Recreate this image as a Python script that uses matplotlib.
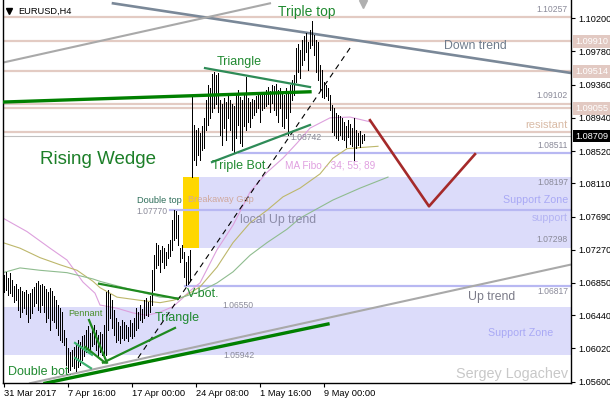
import matplotlib
matplotlib.use('Agg')
import matplotlib.pyplot as plt
from matplotlib.patches import Rectangle

plt.rcParams['font.family'] = ['Liberation Sans', 'DejaVu Sans']

W, H = 610, 400

# H4 bars, EURUSD (high / low only, bar index 0 = leftmost bar)
highs = [
    1.0695, 1.0699, 1.0691, 1.0698, 1.0689, 1.0681, 1.0684, 1.0677, 1.0680, 1.0675,
    1.0674, 1.0676, 1.0671, 1.0672, 1.0677, 1.0680, 1.0685, 1.0687, 1.0682, 1.0684,
    1.0681, 1.0677, 1.0674, 1.0679, 1.0675, 1.0668, 1.0663, 1.0657, 1.0653, 1.0648,
    1.0625, 1.0615, 1.0603, 1.0598, 1.0600, 1.0604, 1.0606, 1.0613, 1.0610, 1.0618,
    1.0619, 1.0625, 1.0630, 1.0622, 1.0628, 1.0632, 1.0625, 1.0619, 1.0623, 1.0620,
    1.0632, 1.0674, 1.0676, 1.0671, 1.0663, 1.0651, 1.0641, 1.0636, 1.0630, 1.0638,
    1.0636, 1.0632, 1.0629, 1.0638, 1.0634, 1.0641, 1.0653, 1.0648, 1.0657, 1.0652,
    1.0663, 1.0666, 1.0661, 1.0668, 1.0701, 1.0720, 1.0736, 1.0733, 1.0727, 1.0732,
    1.0729, 1.0724, 1.0734, 1.0739, 1.0765, 1.0777, 1.0776, 1.0771, 1.0729, 1.0733,
    1.0724, 1.0712, 1.0719, 1.0727, 1.0920, 1.0885, 1.0879, 1.0881, 1.0875, 1.0884,
    1.0894, 1.0917, 1.0936, 1.0932, 1.0950, 1.0952, 1.0948, 1.0951, 1.0917, 1.0912,
    1.0919, 1.0914, 1.0922, 1.0917, 1.0912, 1.0909, 1.0923, 1.0929, 1.0920, 1.0917,
    1.0923, 1.0946, 1.0919, 1.0914, 1.0918, 1.0917, 1.0922, 1.0925, 1.0923, 1.0927,
    1.0924, 1.0929, 1.0933, 1.0928, 1.0936, 1.0934, 1.0937, 1.0929, 1.0932, 1.0927,
    1.0923, 1.0932, 1.0928, 1.0936, 1.0942, 1.0948, 1.0982, 1.0988, 1.0980, 1.0993,
    1.0998, 1.1001, 1.0990, 1.1005, 1.1017, 1.0999, 1.0993, 1.0990, 1.0961, 1.0955,
    1.0939, 1.0936, 1.0932, 1.0923, 1.0910, 1.0907, 1.0900, 1.0898, 1.0896, 1.0894,
    1.0889, 1.0884, 1.0891, 1.0886, 1.0881, 1.0894, 1.0879, 1.0875, 1.0877, 1.0872,
    1.0874,
]
lows = [
    1.0674, 1.0676, 1.0670, 1.0672, 1.0668, 1.0661, 1.0663, 1.0651, 1.0642, 1.0648,
    1.0653, 1.0646, 1.0636, 1.0641, 1.0647, 1.0656, 1.0660, 1.0651, 1.0648, 1.0657,
    1.0648, 1.0636, 1.0641, 1.0625, 1.0638, 1.0636, 1.0628, 1.0619, 1.0613, 1.0610,
    1.0606, 1.0581, 1.0572, 1.0575, 1.0580, 1.0577, 1.0573, 1.0579, 1.0581, 1.0587,
    1.0592, 1.0598, 1.0603, 1.0598, 1.0605, 1.0608, 1.0600, 1.0592, 1.0598, 1.0594,
    1.0590, 1.0594, 1.0625, 1.0641, 1.0628, 1.0619, 1.0610, 1.0613, 1.0609, 1.0615,
    1.0613, 1.0615, 1.0611, 1.0618, 1.0615, 1.0618, 1.0625, 1.0628, 1.0638, 1.0636,
    1.0641, 1.0644, 1.0643, 1.0648, 1.0657, 1.0676, 1.0704, 1.0708, 1.0699, 1.0712,
    1.0704, 1.0708, 1.0717, 1.0719, 1.0727, 1.0739, 1.0742, 1.0733, 1.0712, 1.0717,
    1.0693, 1.0682, 1.0684, 1.0689, 1.0819, 1.0841, 1.0834, 1.0847, 1.0841, 1.0853,
    1.0856, 1.0879, 1.0885, 1.0894, 1.0901, 1.0907, 1.0912, 1.0901, 1.0872, 1.0860,
    1.0881, 1.0866, 1.0894, 1.0879, 1.0853, 1.0851, 1.0869, 1.0885, 1.0862, 1.0858,
    1.0884, 1.0879, 1.0889, 1.0882, 1.0894, 1.0898, 1.0901, 1.0907, 1.0889, 1.0904,
    1.0907, 1.0909, 1.0912, 1.0901, 1.0913, 1.0904, 1.0898, 1.0889, 1.0907, 1.0884,
    1.0881, 1.0894, 1.0872, 1.0901, 1.0917, 1.0923, 1.0939, 1.0952, 1.0944, 1.0961,
    1.0967, 1.0977, 1.0955, 1.0982, 1.0986, 1.0974, 1.0952, 1.0942, 1.0929, 1.0920,
    1.0919, 1.0922, 1.0917, 1.0904, 1.0876, 1.0872, 1.0869, 1.0866, 1.0872, 1.0867,
    1.0866, 1.0857, 1.0870, 1.0861, 1.0858, 1.0841, 1.0856, 1.0860, 1.0857, 1.0862,
    1.0866,
]

date_ticks = [0, 32, 64, 96, 128, 160]
date_labels = ['31 Mar 2017', '7 Apr 16:00', '17 Apr 00:00', '24 Apr 08:00',
               '1 May 16:00', '9 May 00:00']
price_ticks = [1.10200, 1.09780, 1.09360, 1.08940, 1.08520, 1.08110,
               1.07690, 1.07270, 1.06850, 1.06440, 1.06020, 1.05600]

# moving averages (Fibo 34 / 55 / 89)
ma34_x = [-0.5, 11.5, 23, 31.5, 39.5, 45.5, 48, 56.5, 64.5, 71.5, 78, 84.5, 89, 93,
          98, 106.5, 114.5, 123, 131.5, 139.5, 146.5, 153, 163, 173, 183]
ma34_y = [1.0767, 1.0750, 1.0729, 1.0714, 1.0686, 1.0672, 1.0657, 1.0653, 1.0647,
          1.0644, 1.0648, 1.0655, 1.0665, 1.0675, 1.0685, 1.0727, 1.0758, 1.0800,
          1.0825, 1.0843, 1.0862, 1.0881, 1.0894, 1.0895, 1.0889]
ma55_x = [-0.5, 8, 18, 28, 36.5, 44.5, 48, 56.5, 68, 78, 84.5, 89.5, 98, 106.5,
          114.5, 123, 131.5, 139.5, 148, 153, 158, 164.5, 171.5, 181.5, 187]
ma55_y = [1.0736, 1.0729, 1.0717, 1.0708, 1.0701, 1.0687, 1.0679, 1.0667, 1.0663,
          1.0660, 1.0663, 1.0667, 1.0680, 1.0705, 1.0736, 1.0761, 1.0777, 1.0794,
          1.0805, 1.0814, 1.0823, 1.0843, 1.0855, 1.0857, 1.0858]
ma89_x = [-0.5, 8, 18, 31.5, 44.5, 48, 64.5, 78, 88, 98, 106.5, 114.5, 123, 131.5,
          141.5, 148, 164.5, 178, 192]
ma89_y = [1.0698, 1.0704, 1.0701, 1.0698, 1.0690, 1.0687, 1.0676, 1.0667, 1.0666,
          1.0674, 1.0685, 1.0699, 1.0720, 1.0736, 1.0753, 1.0767, 1.0790, 1.0805, 1.0819]

# horizontal levels
resist_levels = [1.1022, 1.0991, 1.0953, 1.0912, 1.0906, 1.0876]
box_levels = [1.0991, 1.0953, 1.0906]
box_labels = ['1.09910', '1.09514', '1.09055']
bid = 1.08709
blue_levels = [1.0850, 1.0777, 1.0681]
blue_start = [117.5, 83, 90.5]

upper_zone = [1.07298, 1.08197]
upper_zone_start = 97
lower_zone = [1.05942, 1.06550]
gap_x = [89.5, 97.5]

# trend lines as (bar, price) anchors
down_trend_x, down_trend_y = [54.5, 283], [1.1039, 1.0951]
grey_line_x, grey_line_y = [-0.5, 133], [1.0964, 1.1039]
up_trend_x, up_trend_y = [13, 283], [1.0558, 1.0708]
wedge_low_x, wedge_low_y = [20.5, 162], [1.0558, 1.0633]
wedge_up_x, wedge_up_y = [-0.5, 153], [1.0914, 1.0927]
tri_top_x, tri_top_y = [100.5, 153], [1.0957, 1.0933]
tri_bot_x, tri_bot_y = [104, 153], [1.0838, 1.0885]
tri2_top_x, tri2_top_y = [47.5, 87], [1.0684, 1.0665]
tri2_bot_x, tri2_bot_y = [49.5, 85.5], [1.0584, 1.0628]
pen_a_x, pen_a_y = [42.5, 51.5], [1.0638, 1.0584]
pen_b_x, pen_b_y = [40.5, 50.5], [1.0604, 1.0584]
pen_c_x, pen_c_y = [35.5, 44], [1.0609, 1.0594]
pen_d_x, pen_d_y = [35.5, 43.5], [1.0590, 1.0577]
dash_x, dash_y = [67, 174], [1.0590, 1.0986]
fore_x, fore_y = [183, 212.5, 235.5], [1.0891, 1.0782, 1.0848]

fig = plt.figure(figsize=(W / 100, H / 100), dpi=100)
ax = fig.add_axes([3 / W, 17 / H, 568 / W, 383 / H])
ax.set_xlim(-0.5, 283.5)
ax.set_ylim(1.05583, 1.10432)

# zones
ax.add_patch(Rectangle((-0.5, lower_zone[0]), 284, lower_zone[1] - lower_zone[0],
                       color='#dcdcfa', lw=0, zorder=0))
ax.add_patch(Rectangle((upper_zone_start, upper_zone[0]), 290, upper_zone[1] - upper_zone[0],
                       color='#dcdcfa', lw=0, zorder=0))
ax.add_patch(Rectangle((gap_x[0], upper_zone[0]), gap_x[1] - gap_x[0],
                       upper_zone[1] - upper_zone[0], color='#ffd700', lw=0, zorder=0.5))

for lv in resist_levels:
    ax.axhline(lv, color='#e3cbc3', lw=1.6, zorder=1)
ax.axhline(bid, color='#c0c0c0', lw=0.8, zorder=1)
for lv, x0 in zip(blue_levels, blue_start):
    ax.plot([x0, 290], [lv, lv], color='#b8b8f2', lw=1.6, zorder=1)

ax.plot(ma34_x, ma34_y, color='#dda0dd', lw=0.8, zorder=2)
ax.plot(ma55_x, ma55_y, color='#bdb76b', lw=0.8, zorder=2)
ax.plot(ma89_x, ma89_y, color='#8fbc8f', lw=0.8, zorder=2)

ax.plot(down_trend_x, down_trend_y, color='#7a8898', lw=1.9, zorder=2)
ax.plot(grey_line_x, grey_line_y, color='#a9a9a9', lw=1.5, zorder=2)
ax.plot(up_trend_x, up_trend_y, color='#a9a9a9', lw=1.5, zorder=2)
ax.plot(dash_x, dash_y, color='black', lw=0.8, dashes=(5, 4), zorder=3)

x = list(range(len(highs)))
ax.vlines(x, lows, highs, color='black', lw=0.5, antialiased=False, zorder=4)

ax.plot(wedge_low_x, wedge_low_y, color='#008000', lw=2.4, zorder=5)
ax.plot(wedge_up_x, wedge_up_y, color='#008000', lw=2.4, zorder=5)
for lx, ly in [(tri_top_x, tri_top_y), (tri_bot_x, tri_bot_y)]:
    ax.plot(lx, ly, color='#2e8b57', lw=1.6, zorder=5)
for lx, ly in [(tri2_top_x, tri2_top_y), (tri2_bot_x, tri2_bot_y),
               (pen_a_x, pen_a_y), (pen_b_x, pen_b_y)]:
    ax.plot(lx, ly, color='#1f8a1f', lw=1.6, zorder=5)
for lx, ly in [(pen_c_x, pen_c_y), (pen_d_x, pen_d_y)]:
    ax.plot(lx, ly, color='#3cb371', lw=1.6, zorder=5)
ax.plot(fore_x, fore_y, color='#a52a2a', lw=1.9, zorder=5)

# axes look
ax.spines['top'].set_visible(False)
for s in ['left', 'right', 'bottom']:
    ax.spines[s].set_linewidth(1.0)
ax.yaxis.tick_right()
ax.set_yticks(price_ticks)
ax.set_yticklabels(['%.5f' % p for p in price_ticks], fontsize=6.6)
ax.set_xticks(date_ticks)
ax.set_xticklabels(date_labels, fontsize=6.7, ha='left')
ax.tick_params(axis='y', length=3, width=0.8, pad=2)
ax.tick_params(axis='x', length=3, width=0.8, pad=1)

# right axis price boxes
for lv, s in zip(box_levels, box_labels):
    ax.annotate(s, xy=(1.0, lv), xycoords=('axes fraction', 'data'),
                xytext=(3, 0), textcoords='offset points', ha='left', va='center',
                fontsize=6.6, color='white', annotation_clip=False,
                bbox=dict(boxstyle='square,pad=0.2', fc='#e2c9c2', ec='none'))
ax.annotate('%.5f' % bid, xy=(1.0, bid), xycoords=('axes fraction', 'data'),
            xytext=(3, 0), textcoords='offset points', ha='left', va='center',
            fontsize=6.6, color='white', annotation_clip=False,
            bbox=dict(boxstyle='square,pad=0.2', fc='black', ec='none'))


def put(xp, yp, s, size, color, ha='left'):
    fig.text(xp / W, 1 - yp / H, s, fontsize=size, color=color, ha=ha, va='center')


def mark(xp, yp, size, color):
    ax.plot([(xp - 3) / 568], [1 - yp / 383], marker='v', ms=size, color=color,
            transform=ax.transAxes, clip_on=False)


grey = '#8a8a99'
green = '#208a30'
put(18, 11, 'EURUSD,H4', 6.7, 'black')
mark(9, 11, 4, 'black')
mark(363, 4, 6, '#b0b0b0')

put(568, 9, '1.10257', 6.2, grey, 'right')
put(444, 46, 'Down trend', 8.8, '#6f7c8c')
put(568, 96, '1.09102', 6.2, grey, 'right')
put(568, 125, 'resistant', 8, '#d9bba6', 'right')
put(568, 146, '1.08511', 6.2, grey, 'right')
put(290, 138, '1.08742', 6.2, grey)
put(568, 182, '1.08197', 6.2, grey, 'right')
put(568, 200, 'Support Zone', 7.7, '#a9a9f5', 'right')
put(568, 218, 'support', 7.7, '#b3b3f3', 'right')
put(568, 240, '1.07298', 6.2, grey, 'right')
put(568, 292, '1.06817', 6.2, grey, 'right')
put(468, 297, 'Up trend', 8.8, '#7b7b88')
put(488, 333, 'Support Zone', 7.7, '#a9a9f5')
put(568, 374, 'Sergey Logachev', 10.4, '#c8c8c8', 'right')

put(278, 12, 'Triple top', 10, green)
put(217, 62, 'Triangle', 9, green)
put(212, 166, 'Triple Bot.', 9, green)
put(285, 165, 'MA Fibo - 34; 55; 89', 7.2, '#e0a0e0')
put(40, 160, 'Rising Wedge', 13.5, '#1c7f28')
put(137, 201, 'Double top', 6.7, '#2e6e5a')
put(188, 199, 'Breakaway Gap', 6.7, '#d0a89c')
put(136, 212, '1.07770', 6.2, grey)
put(240, 220, 'local Up trend', 8.8, '#8c8ca8')
put(187, 294, 'V-bot.', 9, green)
put(222, 305, '1.06550', 6.2, grey)
put(68, 314, 'Pennant', 6.6, '#4a8f2a')
put(155, 318, 'Triangle', 9, green)
put(223, 355, '1.05942', 6.2, grey)
put(8, 372, 'Double bot.', 9, green)

fig.savefig('out.png', dpi=100)
